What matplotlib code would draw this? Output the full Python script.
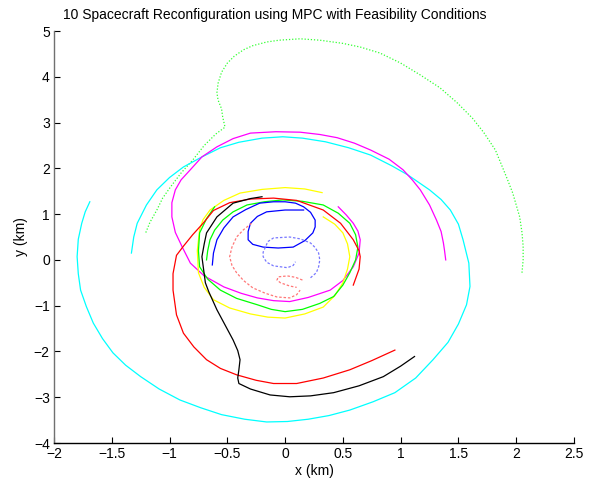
import matplotlib.pyplot as plt

plt.rcParams['font.family'] = ['Liberation Sans', 'DejaVu Sans']

# trajectories (km)
green_dot_x = [2.05, 2.06, 2.06, 2.05, 2.03, 2.00, 1.97, 1.93, 1.89, 1.82, 1.72, 1.62, 1.49, 1.34, 1.17, 1.00, 0.82, 0.65, 0.50, 0.30, 0.13, -0.05, -0.16, -0.28, -0.36, -0.44, -0.50, -0.55, -0.58, -0.59, -0.58, -0.55, -0.54, -0.52,
               -0.60, -0.70, -0.80, -0.90, -0.99, -1.06, -1.11, -1.17, -1.21]
green_dot_y = [-0.28, 0.00, 0.30, 0.60, 0.94, 1.20, 1.46, 1.72, 1.97, 2.40, 2.78, 3.10, 3.43, 3.76, 4.04, 4.30, 4.52, 4.65, 4.73, 4.80, 4.83, 4.80, 4.76, 4.68, 4.59, 4.45, 4.30, 4.10, 3.86, 3.65, 3.49, 3.30, 3.12, 2.90,
               2.75, 2.50, 2.18, 1.90, 1.60, 1.35, 1.09, 0.82, 0.57]

cyan_x = [-1.69, -1.73, -1.76, -1.79, -1.80, -1.79, -1.77, -1.72, -1.66, -1.58, -1.49, -1.38, -1.25, -1.09, -0.91, -0.73, -0.55, -0.35, -0.16, 0.02, 0.20, 0.38, 0.56, 0.76, 0.95, 1.13, 1.28, 1.41, 1.50, 1.57, 1.60,
          1.59, 1.54, 1.50, 1.43, 1.35, 1.25, 1.06, 0.92, 0.74, 0.55, 0.35, 0.15, -0.02, -0.20, -0.40, -0.56, -0.72, -0.88, -1.00, -1.11, -1.20, -1.28, -1.31, -1.33]
cyan_y = [1.27, 1.05, 0.80, 0.45, 0.07, -0.30, -0.66, -1.02, -1.38, -1.72, -2.03, -2.30, -2.55, -2.82, -3.06, -3.23, -3.38, -3.48, -3.54, -3.53, -3.48, -3.40, -3.28, -3.10, -2.90, -2.58, -2.18, -1.80, -1.40, -0.98, -0.58,
          -0.07, 0.44, 0.78, 1.09, 1.32, 1.53, 1.86, 2.06, 2.29, 2.45, 2.58, 2.66, 2.69, 2.66, 2.57, 2.45, 2.25, 2.03, 1.80, 1.53, 1.20, 0.80, 0.50, 0.15]

magenta_x = [1.39, 1.38, 1.37, 1.35, 1.31, 1.25, 1.17, 1.10, 1.02, 0.90, 0.74, 0.60, 0.45, 0.30, 0.13, -0.08, -0.30, -0.45, -0.59, -0.72, -0.82, -0.90, -0.95, -0.98, -0.98, -0.95, -0.89, -0.82,
             -0.70, -0.53, -0.38, -0.24, -0.10, 0.04, 0.20, 0.39, 0.50, 0.59, 0.64, 0.65, 0.63, 0.59, 0.53, 0.46]
magenta_y = [0.00, 0.20, 0.37, 0.62, 0.87, 1.20, 1.53, 1.75, 1.97, 2.20, 2.40, 2.55, 2.67, 2.74, 2.79, 2.80, 2.77, 2.65, 2.47, 2.25, 1.97, 1.75, 1.53, 1.25, 0.94, 0.60, 0.28, -0.07,
             -0.35, -0.59, -0.73, -0.83, -0.89, -0.91, -0.82, -0.66, -0.45, -0.15, 0.15, 0.44, 0.63, 0.80, 0.98, 1.16]

yellow_x = [0.32, 0.17, 0.00, -0.20, -0.39, -0.53, -0.65, -0.71, -0.74, -0.76, -0.75, -0.70, -0.62, -0.48, -0.30, -0.15, 0.00, 0.17, 0.33, 0.43, 0.50, 0.54, 0.56, 0.54, 0.50, 0.43, 0.33]
yellow_y = [1.47, 1.55, 1.58, 1.54, 1.46, 1.30, 1.09, 0.88, 0.66, 0.20, -0.28, -0.60, -0.87, -1.05, -1.18, -1.25, -1.27, -1.18, -1.03, -0.78, -0.50, -0.20, 0.07, 0.35, 0.59, 0.78, 0.94]

green_x = [-0.61, -0.68, -0.74, -0.75, -0.74, -0.67, -0.56, -0.42, -0.24, -0.12, 0.00, 0.15, 0.30, 0.42, 0.50, 0.56, 0.61, 0.63, 0.61, 0.56, 0.46, 0.33, 0.15, -0.02, -0.18, -0.33, -0.45, -0.54, -0.61, -0.65, -0.67, -0.68]
green_y = [1.16, 0.90, 0.59, 0.20, -0.15, -0.42, -0.66, -0.84, -0.98, -1.08, -1.13, -1.08, -0.95, -0.80, -0.55, -0.28, 0.00, 0.28, 0.55, 0.80, 1.02, 1.20, 1.28, 1.31, 1.27, 1.20, 1.05, 0.87, 0.65, 0.44, 0.20, 0.00]

red_x = [0.95, 0.75, 0.56, 0.33, 0.10, -0.10, -0.25, -0.42, -0.56, -0.68, -0.79, -0.88, -0.94, -0.97, -0.97, -0.94, -0.88, -0.80, -0.71, -0.62, -0.48, -0.30, -0.10, 0.10, 0.33, 0.48, 0.59, 0.64, 0.65, 0.64, 0.59]
red_y = [-1.97, -2.20, -2.40, -2.58, -2.70, -2.70, -2.63, -2.51, -2.37, -2.18, -1.90, -1.60, -1.20, -0.66, -0.30, 0.10, 0.30, 0.55, 0.80, 1.08, 1.25, 1.33, 1.35, 1.30, 1.09, 0.80, 0.44, 0.20, 0.07, -0.20, -0.55]

black_x = [1.12, 1.00, 0.85, 0.64, 0.42, 0.22, 0.04, -0.13, -0.30, -0.40, -0.41, -0.40, -0.39, -0.41, -0.45, -0.52, -0.59, -0.66, -0.69, -0.72, -0.70, -0.68, -0.59, -0.45, -0.30, -0.20]
black_y = [-2.11, -2.32, -2.55, -2.75, -2.90, -2.97, -2.99, -2.95, -2.82, -2.70, -2.58, -2.40, -2.18, -1.98, -1.75, -1.42, -1.09, -0.70, -0.50, 0.07, 0.35, 0.59, 0.94, 1.24, 1.34, 1.38]

blue_x = [-0.63, -0.62, -0.59, -0.53, -0.45, -0.34, -0.22, -0.10, 0.00, 0.09, 0.16, 0.22, 0.26, 0.26, 0.24, 0.17, 0.07, -0.06, -0.19, -0.28, -0.32, -0.32, -0.30, -0.24, -0.16, 0.00, 0.16]
blue_y = [-0.11, 0.15, 0.44, 0.70, 0.94, 1.10, 1.24, 1.27, 1.27, 1.24, 1.16, 1.04, 0.87, 0.72, 0.59, 0.42, 0.28, 0.26, 0.28, 0.34, 0.44, 0.62, 0.80, 0.95, 1.05, 1.09, 1.09]

lblue_x = [0.22, 0.27, 0.29, 0.30, 0.29, 0.26, 0.22, 0.13, 0.04, -0.10, -0.15, -0.17, -0.19, -0.19, -0.16, -0.10, 0.02, 0.07, 0.09]
lblue_y = [-0.39, -0.28, -0.15, 0.00, 0.15, 0.27, 0.37, 0.46, 0.50, 0.48, 0.40, 0.28, 0.17, 0.07, -0.05, -0.13, -0.17, -0.12, -0.04]

lred_x = [-0.29, -0.36, -0.42, -0.46, -0.48, -0.46, -0.42, -0.36, -0.28, -0.17, -0.07, 0.04, 0.10, 0.13]
lred_y = [0.80, 0.66, 0.50, 0.28, 0.07, -0.12, -0.28, -0.45, -0.61, -0.73, -0.81, -0.83, -0.76, -0.66]

lred2_x = [0.15, 0.09, 0.02, -0.06, -0.07, -0.04, 0.04, 0.10]
lred2_y = [-0.44, -0.38, -0.35, -0.37, -0.44, -0.50, -0.57, -0.60]

fig = plt.figure(figsize=(5.89, 4.87), dpi=100)
ax = fig.add_axes([0.0917, 0.0903, 0.8828, 0.846])

lw = 0.9
ax.plot(green_dot_x, green_dot_y, color='#33ff33', lw=lw, ls=(0, (1, 1.5)))
ax.plot(cyan_x, cyan_y, color='#00ffff', lw=lw)
ax.plot(magenta_x, magenta_y, color='#ff00ff', lw=lw)
ax.plot(yellow_x, yellow_y, color='#ffff00', lw=lw)
ax.plot(green_x, green_y, color='#00ff00', lw=lw)
ax.plot(red_x, red_y, color='#ff0000', lw=lw)
ax.plot(black_x, black_y, color='#000000', lw=lw)
ax.plot(blue_x, blue_y, color='#0000ff', lw=lw)
ax.plot(lblue_x, lblue_y, color='#7777ff', lw=lw, ls=(0, (2, 1.5)))
ax.plot(lred_x, lred_y, color='#ff7777', lw=lw, ls=(0, (2, 1.5)))
ax.plot(lred2_x, lred2_y, color='#ff7777', lw=lw, ls=(0, (2, 1.5)))

ax.set_xlim(-2, 2.5)
ax.set_ylim(-4, 5)
ax.set_xticks([-2, -1.5, -1, -0.5, 0, 0.5, 1, 1.5, 2, 2.5])
ax.set_xticklabels(['\u22122', '\u22121.5', '\u22121', '\u22120.5', '0', '0.5', '1', '1.5', '2', '2.5'])
ax.set_yticks(range(-4, 6))
ax.set_yticklabels(['\u2212%d' % -v if v < 0 else str(v) for v in range(-4, 6)])
ax.spines['top'].set_visible(False)
ax.spines['right'].set_visible(False)
ax.spines['left'].set_color('#707070')
ax.spines['left'].set_linewidth(1.0)
ax.spines['bottom'].set_linewidth(1.0)
ax.tick_params(direction='in', length=4, labelsize=10, pad=3)
ax.set_xlabel('x (km)', fontsize=10, labelpad=2)
ax.set_ylabel('y (km)', fontsize=10, labelpad=4)
ax.set_title('10 Spacecraft Reconfiguration using MPC with Feasibility Conditions', fontsize=10, x=0.425, pad=9)

plt.savefig('out.png', dpi=100)
